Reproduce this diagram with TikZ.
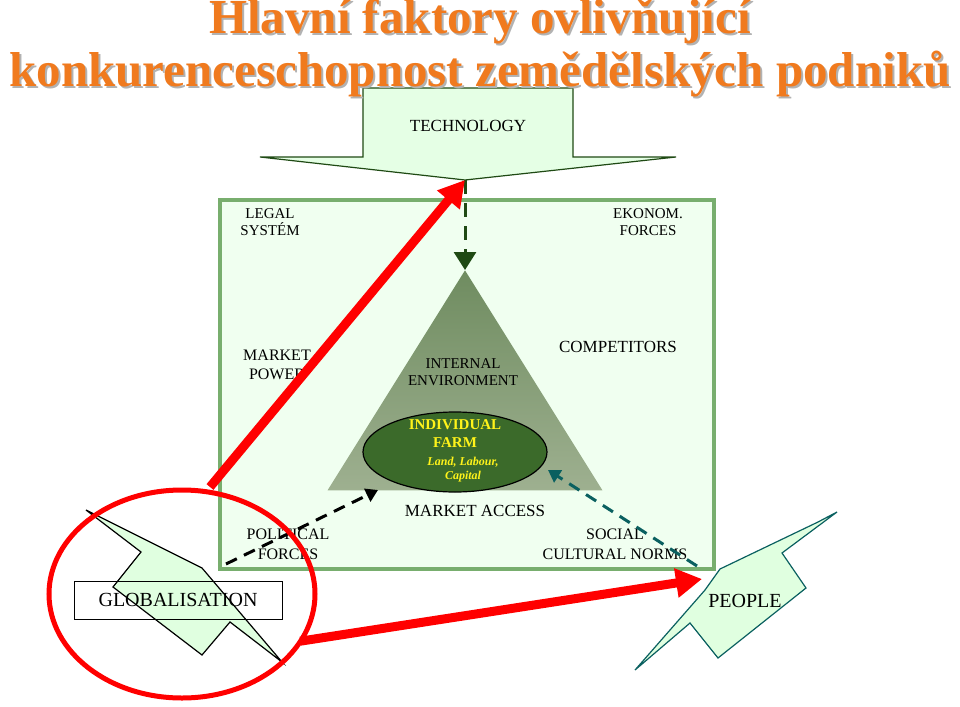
\documentclass[tikz,border=0pt]{standalone}
\usepackage{fontspec}
\setmainfont{Liberation Serif}
\usetikzlibrary{arrows.meta,positioning,shapes.geometric}
\definecolor{framegreen}{HTML}{78AE6E}
\definecolor{darkgreen}{HTML}{1F4A14}
\definecolor{farmgreen}{HTML}{3B6A2A}
\definecolor{teal}{HTML}{0A6060}
\definecolor{titleorange}{HTML}{F07A1E}
\definecolor{tritop}{HTML}{6F8C60}
\definecolor{tribottom}{HTML}{9EB090}
\tikzset{label/.style={
		% plain caption text
		align=center,font=\fontsize{15}{17}\selectfont,inner sep=0pt,
}}
\tikzset{bolt/.style={
		% the lightning shapes
		very thick,fill=green!12,line join=miter,
}}
\tikzset{titletext/.style={
		align=center,font=\bfseries\fontsize{49}{53}\selectfont,inner sep=0pt,
}}
\begin{document}
\begin{tikzpicture}[x=1pt,y=-1pt,>={Triangle[length=18pt,width=22pt]}]
	\useasboundingbox (0,0) rectangle (960,706);
	% environment frame
	\node (frame) [draw=framegreen,line width=4pt,fill=green!6,minimum width=494pt,minimum height=369pt,anchor=north west] at (218,198) {};
	% technology arrow
	\draw [bolt,draw=darkgreen,fill=green!10] (363,88) -- (573,88) -- (573,157) -- (676,157) -- (465,180) -- (260,157) -- (363,157) -- cycle;
	\coordinate (tip) at (465,180);
	\node (techno) [label,font=\fontsize{17}{19}\selectfont] at (468,126) {TECHNOLOGY};
	% internal environment
	\node (tri) [isosceles triangle,isosceles triangle apex angle=64,shape border rotate=90,minimum height=220pt,anchor=apex,inner sep=0pt,
		top color=tritop,bottom color=tribottom,draw=none] at (465,270) {};
	\node (farm) [ellipse,draw=black,very thick,fill=farmgreen,minimum width=184pt,minimum height=80pt] at (455,452) {};
	\node [align=center,text=yellow!90!white,font=\bfseries\fontsize{15}{18}\selectfont] at (455,434) {INDIVIDUAL\\FARM};
	\node [align=center,text=yellow!90!white,font=\bfseries\itshape\fontsize{12}{14}\selectfont] at (463,470) {Land, Labour,\\Capital};
	\node (internal) [label] at (463,372) {INTERNAL\\ENVIRONMENT};
	\draw [darkgreen,line width=3pt,dash pattern=on 14pt off 9pt,->] (tip) -- (tri.apex);
	% captions
	\node (legal) [label] at (270,222) {LEGAL\\SYSTÉM};
	\node (ekonom) [label] at (648,222) {EKONOM.\\FORCES};
	\node (power) [label,font=\fontsize{16}{19}\selectfont] at (277,365) {MARKET\\POWER};
	\node (compet) [label,font=\fontsize{17}{19}\selectfont] at (618,347) {COMPETITORS};
	\node (access) [label,font=\fontsize{17}{19}\selectfont] at (475,511) {MARKET ACCESS};
	\node (politic) [label,font=\fontsize{16}{20}\selectfont] at (288,544) {POLITICAL\\FORCES};
	\node (social) [label,font=\fontsize{16}{20}\selectfont] at (615,544) {SOCIAL\\CULTURAL NORMS};
	\coordinate (polend) at (226,564);
	\coordinate (socend) at (697,566);
	\draw [black,line width=3pt,dash pattern=on 12pt off 8pt,->,>={Triangle[length=12pt,width=14pt]}] (polend) -- (378,490);
	\draw [teal,line width=3pt,dash pattern=on 12pt off 8pt,->,>={Triangle[length=12pt,width=14pt]}] (socend) -- (548,470);
	% globalisation
	\draw [bolt,draw=black] (86,510) -- (202,568) -- (282,662) -- (230,622) -- (202,655) -- (113,587) -- (141,552) -- cycle;
	\node (glob) [draw,minimum width=208pt,minimum height=38pt,font=\fontsize{20}{22}\selectfont] at (178,600) {GLOBALISATION};
	\node (circ) [ellipse,draw=red,line width=5pt,minimum width=266pt,minimum height=208pt] at (182,594) {};
	% people
	\draw [bolt,draw=teal] (837,512) -- (782,553) -- (806,588) -- (718,658) -- (690,623) -- (635,670) -- (705,590) -- (720,569) -- (818,522) -- cycle;
	\node (people) [font=\fontsize{20}{22}\selectfont,inner sep=0pt] at (745,601) {PEOPLE};
	% red arrows
	\draw [red,line width=9pt,->,>={Triangle[length=26pt,width=28pt]}] (210,487) -- (tip);
	\draw [red,line width=9pt,->,>={Triangle[length=26pt,width=28pt]}] (glob.south east) ++(18,22) coordinate (gstart) (gstart) -- (702,579);
	% title with its shadow
	\node (shadow) [titletext,text=gray!60] at (482,50) {Hlavní faktory ovlivňující\\konkurenceschopnost zemědělských podniků};
	\node (title) [titletext,text=titleorange] at (480,48) {Hlavní faktory ovlivňující\\konkurenceschopnost zemědělských podniků};
\end{tikzpicture}
\end{document}
